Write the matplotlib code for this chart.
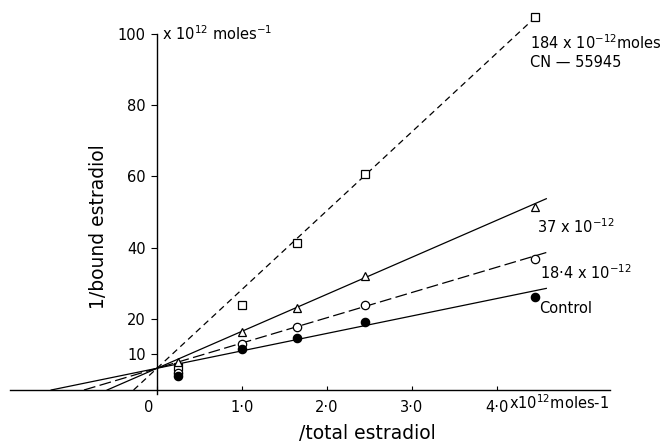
import matplotlib
matplotlib.use("Agg")
import matplotlib.pyplot as plt
import matplotlib.transforms as mtransforms
import numpy as np

# ---- data ----
x_vals = [0.25, 1.0, 1.65, 2.45, 4.45]
control = [3.9, 11.5, 14.6, 19.0, 26.2]
cn_18_4 = [4.8, 12.9, 17.7, 24.0, 36.7]
cn_37 = [7.9, 16.3, 23.0, 32.0, 51.3]
cn_184 = [6.5, 23.9, 41.4, 60.7, 104.9]

line_intercept = 6.1
line_slopes = [4.9, 7.1, 10.4, 22.15]      # control, 18.4, 37, 184
line_x_end = [4.58, 4.58, 4.58, 4.46]

x_ticks = [0, 1, 2, 3, 4]
x_tick_labels = ["0", "1·0", "2·0", "3·0", "4·0"]
y_ticks = [10, 20, 40, 60, 80, 100]
y_tick_labels = ["10", "20", "40", "60", "80", "100"]

# ---- figure ----
W, H, DPI = 662, 446, 100
fig = plt.figure(figsize=(W / DPI, H / DPI), dpi=DPI)
ax = fig.add_axes([0, 0, 1, 1])

# pixel mapping: x_px = 157 + 85*x ; y_px = 390 - 3.56*y
x0_px, xs = 157, 85.0
y0_px, ys = 390, 3.56
ax.set_xlim(-x0_px / xs, (W - x0_px) / xs)
ax.set_ylim((y0_px - H) / ys, y0_px / ys)

for s in ["top", "right"]:
    ax.spines[s].set_visible(False)
ax.spines["left"].set_position(("data", 0))
ax.spines["bottom"].set_position(("data", 0))
ax.spines["left"].set_bounds(-1.0, 100)
ax.spines["bottom"].set_bounds(-1.73, 5.33)
for s in ["left", "bottom"]:
    ax.spines[s].set_linewidth(1.0)

ax.set_xticks(x_ticks)
ax.set_xticklabels(x_tick_labels)
ax.set_yticks(y_ticks)
ax.set_yticklabels(y_tick_labels)
ax.tick_params(axis="x", direction="in", length=3, pad=7, labelsize=10.5)
ax.tick_params(axis="y", direction="out", length=4, pad=4, labelsize=10.5)
# shift the "0" label slightly left as in the reference
lbl0 = ax.get_xticklabels()[0]
lbl0.set_transform(lbl0.get_transform() + mtransforms.ScaledTranslation(-6 / 72, 0, fig.dpi_scale_trans))

lw = 0.9
styles = [
    dict(linestyle="-"),
    dict(linestyle=(0, (9.5, 3.5))),
    dict(linestyle="-"),
    dict(linestyle=(0, (5, 3.5))),
]
for slope, xe, st in zip(line_slopes, line_x_end, styles):
    xs_line = np.array([-line_intercept / slope, xe])
    ax.plot(xs_line, line_intercept + slope * xs_line, color="black", lw=lw, **st)

ms = 6
ax.plot(x_vals, cn_184, linestyle="none", marker="s", mfc="white", mec="black", ms=ms, mew=0.9)
ax.plot(x_vals, cn_37, linestyle="none", marker="^", mfc="white", mec="black", ms=ms, mew=0.9)
ax.plot(x_vals, cn_18_4, linestyle="none", marker="o", mfc="white", mec="black", ms=ms, mew=0.9)
ax.plot(x_vals, control, linestyle="none", marker="o", mfc="black", mec="black", ms=ms, mew=0.9)

fs = 10.5
ax.text(0.06, 100, r"x 10$^{12}$ moles$^{-1}$", fontsize=fs, va="center", ha="left")
ax.text(4.14, -3.65, r"x10$^{12}$moles-1", fontsize=fs, va="center", ha="left")
ax.text(4.39, 97.5, r"184 x 10$^{-12}$moles", fontsize=fs, va="center", ha="left")
ax.text(4.39, 91.9, "CN — 55945", fontsize=fs, va="center", ha="left")
ax.text(4.47, 46.0, r"37 x 10$^{-12}$", fontsize=fs, va="center", ha="left")
ax.text(4.50, 32.9, r"18·4 x 10$^{-12}$", fontsize=fs, va="center", ha="left")
ax.text(4.50, 23.0, "Control", fontsize=fs, va="center", ha="left")

ax.text(-0.69, 46, "1/bound estradiol", fontsize=13.5, rotation=90, va="center", ha="center")
ax.text(2.47, -12.1, "/total estradiol", fontsize=13.5, va="center", ha="center")

fig.savefig("out.png", dpi=DPI)
